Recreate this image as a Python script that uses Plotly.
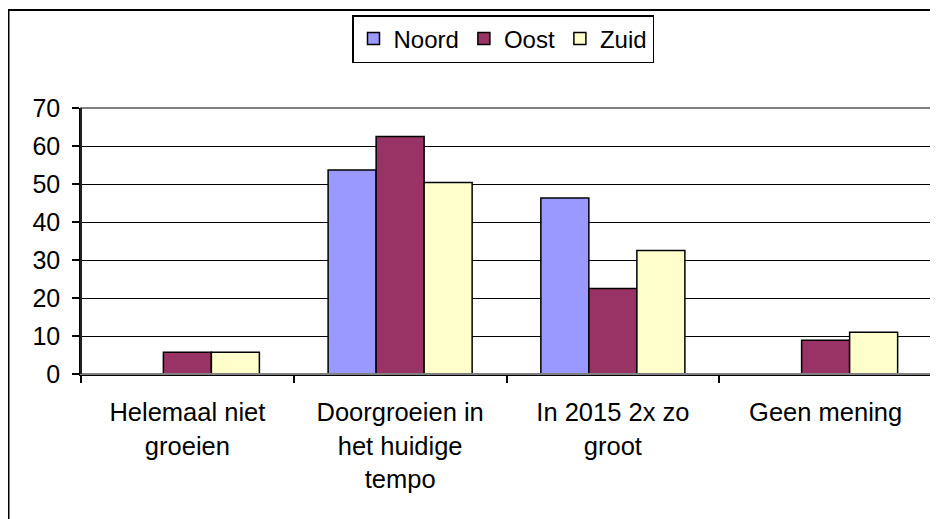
import plotly.graph_objects as go

categories = ["Helemaal niet<br>groeien", "Doorgroeien in<br>het huidige<br>tempo", "In 2015 2x zo<br>groot", "Geen mening"]
noord = [0, 53.7, 46.3, 0]
oost = [5.7, 62.5, 22.5, 8.9]
zuid = [5.7, 50.4, 32.5, 11.0]
y_ticks = [0, 10, 20, 30, 40, 50, 60, 70]

FONT = "Liberation Sans, Arial, sans-serif"

fig = go.Figure()
for name, vals, col in [("Noord", noord, "#9999FF"), ("Oost", oost, "#993366"), ("Zuid", zuid, "#FFFFCC")]:
    fig.add_trace(go.Bar(x=categories, y=vals, name=name,
                         marker=dict(color=col, line=dict(color="black", width=1.5))))

# page has an 8px body margin; work in figure coordinates (page - 8)
OFF = 8
L, T, R, B = 81 - OFF, 108 - OFF, 932 - OFF, 374 - OFF
W, H = 938 - OFF, 519 - OFF
pw, ph = R - L, B - T

def px_x(p):
    return (p - OFF - L) / pw

def px_y(p):
    return (B - (p - OFF)) / ph

fig.update_layout(
    width=W, height=H,
    margin=dict(l=L, r=W - R, t=T, b=H - B, pad=0, autoexpand=False),
    paper_bgcolor="white", plot_bgcolor="white",
    font=dict(family=FONT, size=25, color="black"),
    barmode="group", bargap=0.323, bargroupgap=0,
    showlegend=True,
    legend=dict(orientation="h", x=px_x(503), xanchor="center", y=px_y(15), yanchor="top",
                bordercolor="black", borderwidth=1.5, bgcolor="white",
                font=dict(size=24), itemwidth=30, tracegroupgap=0, traceorder="normal"),
    xaxis=dict(showline=True, linecolor="black", linewidth=1.5, ticks="outside", ticklen=7,
               tickcolor="black", tickwidth=1.5, tickson="boundaries", showgrid=False,
               automargin=False, ticklabelstandoff=15, tickfont=dict(size=25.5)),
    yaxis=dict(range=[0, 70], tickvals=y_ticks, showline=True, linecolor="black", linewidth=1.5,
               ticks="outside", ticklen=7, tickcolor="black", tickwidth=1.5,
               showgrid=True, gridcolor="black", gridwidth=1.3, zeroline=False,
               automargin=False, ticklabelstandoff=7, tickfont=dict(size=25)),
    shapes=[
        dict(type="rect", xref="paper", yref="paper", x0=0, x1=1, y0=0, y1=1,
             line=dict(color="#808080", width=2), layer="above"),
        dict(type="line", xref="paper", yref="paper", x0=0, x1=0, y0=0, y1=1,
             line=dict(color="black", width=1.5), layer="above"),
        dict(type="rect", xref="paper", yref="paper", x0=px_x(8.5), x1=px_x(980), y0=px_y(600), y1=px_y(10),
             line=dict(color="black", width=2), layer="below"),
    ],
)

fig.write_html("out.html")
